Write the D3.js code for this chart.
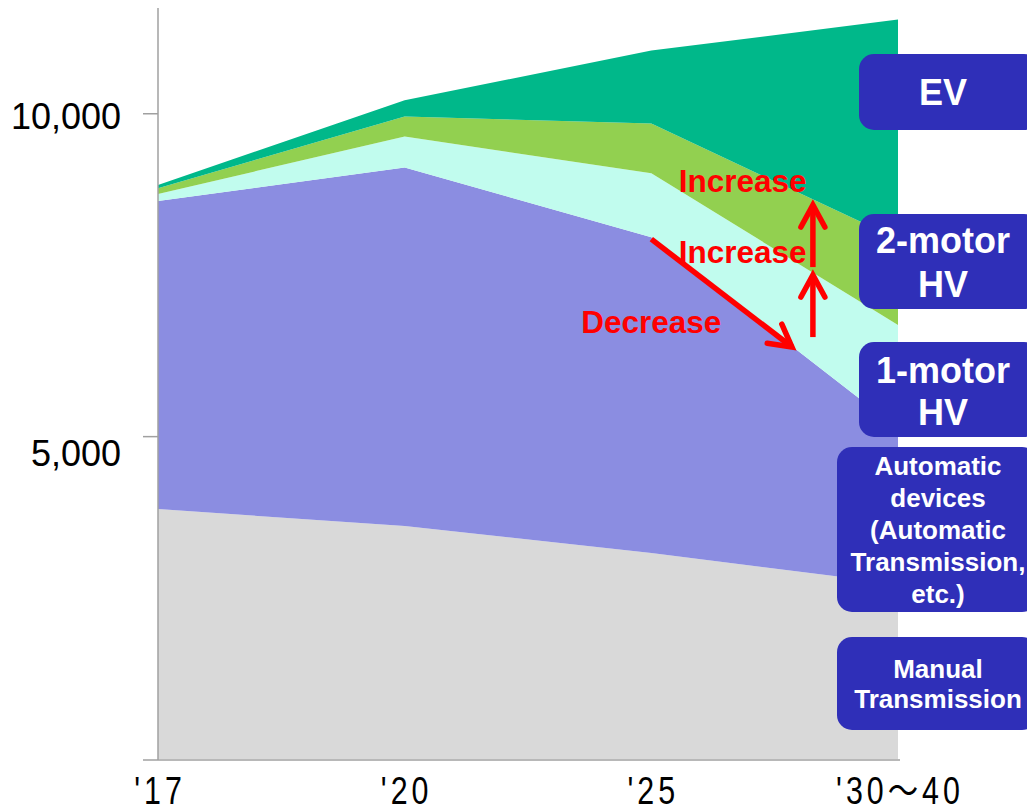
<!DOCTYPE html>
<html>
<head>
<meta charset="utf-8">
<script src="https://cdn.jsdelivr.net/npm/d3@7"></script>
<style>
  html, body { margin: 0; padding: 0; background: #ffffff; }
  svg { display: block; }
</style>
</head>
<body>
<svg id="chart" width="1027" height="811"></svg>
<script>
// Years on the horizontal axis
const years = ["'17", "'20", "'25", "'30\u301c40"];

// Stacked series, bottom to top (units)
const manualTransmission = [3870, 3610, 3190, 2710];
const automaticDevices   = [4770, 5550, 4890, 2410];
const oneMotorHV         = [110, 480, 990, 1600];
const twoMotorHV         = [90, 310, 770, 1330];
const ev                 = [50, 250, 1130, 3400];

const seriesKeys = ["manual", "automatic", "hv1", "hv2", "ev"];
const seriesColors = ["#d9d9d9", "#8b8de1", "#c1fcee", "#92d050", "#00b88a"];

// Y-axis ticks
const yTicks = [5000, 10000];

// Legend box captions, one array of lines per series, top box first
const boxLines = [
  ["EV"],
  ["2-motor", "HV"],
  ["1-motor", "HV"],
  ["Automatic", "devices", "(Automatic", "Transmission,", "etc.)"],
  ["Manual", "Transmission"]
];

// Trend annotations
const annotationTexts = ["Increase", "Increase", "Decrease"];

const svg = d3.select("#chart");

const rows = years.map((yr, i) => ({
  year: yr,
  manual: manualTransmission[i],
  automatic: automaticDevices[i],
  hv1: oneMotorHV[i],
  hv2: twoMotorHV[i],
  ev: ev[i]
}));

const x = d3.scalePoint().domain(years).range([158, 898]);
const xi = d3.scaleLinear().domain([0, years.length - 1]).range([158, 898]);
const y = d3.scaleLinear().domain([0, 11630]).range([759, 8]);

const stacked = d3.stack().keys(seriesKeys)(rows);

const area = d3.area()
  .x(d => x(d.data.year))
  .y0(d => y(d[0]))
  .y1(d => y(d[1]));

svg.append("g")
  .selectAll("path")
  .data(stacked)
  .join("path")
  .attr("d", area)
  .attr("fill", (d, i) => seriesColors[i]);

// Axes
const axisColor = "#a0a0a0";
const yAxis = d3.axisLeft(y).tickValues(yTicks).tickSize(15).tickFormat(d3.format(","));
const gy = svg.append("g").attr("transform", "translate(158,0)").call(yAxis);
gy.select(".domain").remove();
gy.selectAll(".tick line").attr("stroke", axisColor).attr("stroke-width", 1.5);
const yLabelShift = { 5000: 17, 10000: 3 };
gy.selectAll(".tick text")
  .attr("x", -37)
  .attr("dy", d => (yLabelShift[d] + 12) + "px")
  .attr("fill", "#000")
  .style("font-family", "'Liberation Sans', Arial, sans-serif")
  .style("font-size", "36px");

svg.append("line")
  .attr("x1", 158).attr("x2", 158)
  .attr("y1", y.range()[1]).attr("y2", 760)
  .attr("stroke", axisColor).attr("stroke-width", 1.5);

svg.append("line")
  .attr("x1", 143).attr("x2", 900)
  .attr("y1", 760).attr("y2", 760)
  .attr("stroke", axisColor).attr("stroke-width", 1.5);

// Condensed, widely spaced year labels
svg.append("g")
  .selectAll("text")
  .data(years)
  .join("text")
  .attr("transform", d => `translate(${x(d) + 2},804) scale(0.8,1)`)
  .attr("text-anchor", "middle")
  .attr("fill", "#000")
  .style("font-family", "'Liberation Sans', Arial, 'Noto Sans CJK JP', sans-serif")
  .style("font-size", "38px")
  .style("letter-spacing", "5px")
  .text(d => d);

// Legend boxes on the right
const boxFill = "#2f2fb8";
const boxes = [
  { x: 859, y: 54,  w: 180, h: 76,  size: 36, lh: 45, x0: 943, base: 105 },
  { x: 859, y: 214, w: 180, h: 95,  size: 36, lh: 44, x0: 943, base: 253 },
  { x: 859, y: 342, w: 180, h: 95,  size: 36, lh: 42, x0: 943, base: 383 },
  { x: 837, y: 447, w: 200, h: 165, size: 26, lh: 32, x0: 938, base: 475 },
  { x: 837, y: 637, w: 200, h: 93,  size: 26, lh: 30, x0: 938, base: 678 }
];

const gb = svg.append("g");
boxes.forEach((b, i) => {
  gb.append("rect")
    .attr("x", b.x).attr("y", b.y)
    .attr("width", b.w).attr("height", b.h)
    .attr("rx", 15).attr("ry", 15)
    .attr("fill", boxFill);
  const t = gb.append("text")
    .attr("text-anchor", "middle")
    .attr("fill", "#ffffff")
    .style("font-family", "'Liberation Sans', Arial, sans-serif")
    .style("font-weight", "bold")
    .style("font-size", b.size + "px");
  boxLines[i].forEach((line, j) => {
    t.append("tspan").attr("x", b.x0).attr("y", b.base + j * b.lh).text(line);
  });
});

// Trend arrows: x as year index, y as units
const red = "#ff0000";
const arrows = [
  { from: [2.0, 8050], to: [2.57, 6380] },
  { from: [2.655, 6534], to: [2.655, 7494] },
  { from: [2.655, 7618], to: [2.655, 8578] }
];
const ga = svg.append("g");
arrows.forEach(a => {
  const x1 = xi(a.from[0]), y1 = y(a.from[1]);
  const x2 = xi(a.to[0]), y2 = y(a.to[1]);
  ga.append("line")
    .attr("x1", x1).attr("y1", y1).attr("x2", x2).attr("y2", y2)
    .attr("stroke", red).attr("stroke-width", 5.5).attr("stroke-linecap", "butt");
  const ang = Math.atan2(y1 - y2, x1 - x2);
  const len = 25, spread = 0.5;
  const p1 = [x2 + len * Math.cos(ang + spread), y2 + len * Math.sin(ang + spread)];
  const p2 = [x2 + len * Math.cos(ang - spread), y2 + len * Math.sin(ang - spread)];
  ga.append("path")
    .attr("d", `M${p1[0]},${p1[1]}L${x2},${y2}L${p2[0]},${p2[1]}`)
    .attr("fill", "none")
    .attr("stroke", red).attr("stroke-width", 5.5)
    .attr("stroke-linecap", "round").attr("stroke-linejoin", "miter");
});

const labelPos = [[2.37, 8780], [2.37, 7680], [2.0, 6596]];
ga.selectAll("text.note")
  .data(annotationTexts)
  .join("text")
  .attr("class", "note")
  .attr("x", (d, i) => xi(labelPos[i][0]))
  .attr("y", (d, i) => y(labelPos[i][1]))
  .attr("text-anchor", "middle")
  .attr("fill", red)
  .style("font-family", "'Liberation Sans', Arial, sans-serif")
  .style("font-weight", "bold")
  .style("font-size", "31.5px")
  .text(d => d);
</script>
</body>
</html>
